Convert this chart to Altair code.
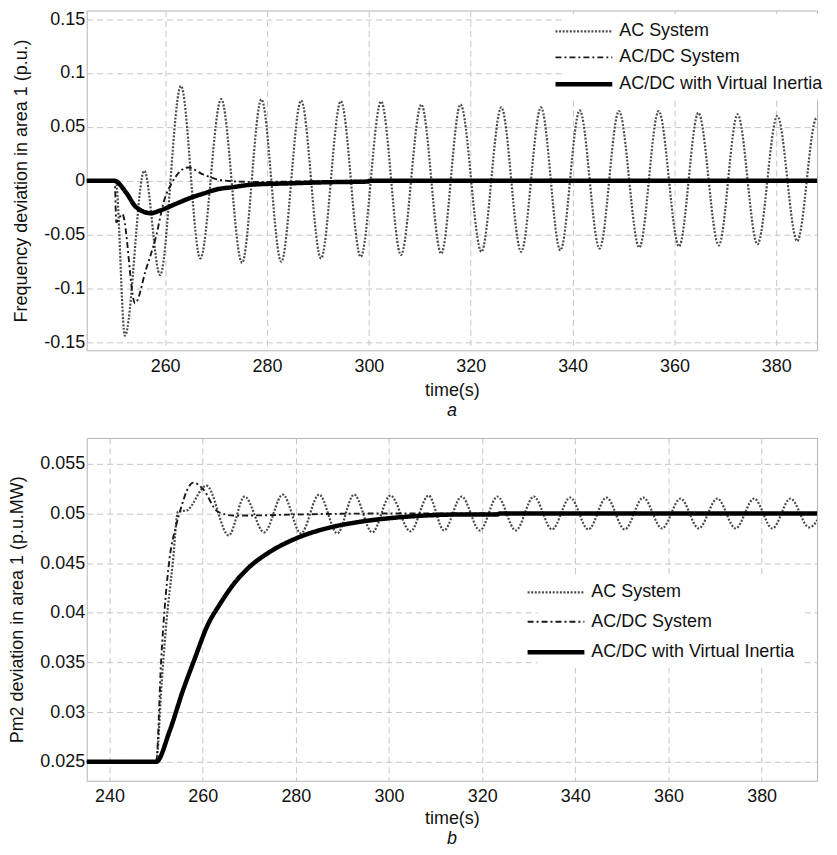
import altair as alt
import pandas as pd

SERIES = ["AC System", "AC/DC System", "AC/DC with Virtual Inertia"]
COLORS = ["#4a4a4a", "#1a1a1a", "#000000"]
DASHES = [[2, 1.6], [6, 3, 2, 3], [1, 0]]
WIDTHS = [2.2, 1.9, 4.5]
FONT = "Liberation Sans"

# ---------------- panel a: frequency deviation ----------------
A_AC_T = [244, 250.3, 252.1, 255.9, 259.0, 263.1, 266.9, 271.0, 275.1, 278.9, 282.8,
          286.7, 290.6, 294.5, 298.4, 302.4, 306.3, 310.3, 314.2, 318.0, 322.1, 326.0,
          329.9, 333.8, 337.6, 341.4, 345.3, 349.1, 353.1, 356.9, 360.9, 364.7, 368.7,
          372.4, 376.3, 380.2, 384.1, 387.9, 391.8]
A_AC_V = [0, 0, -0.144, 0.0092, -0.0876, 0.088, -0.0722, 0.0758, -0.0763, 0.0755, -0.0753,
          0.0744, -0.0722, 0.0738, -0.0707, 0.0735, -0.069, 0.0707, -0.0677, 0.0707, -0.066,
          0.068, -0.066, 0.068, -0.0646, 0.0652, -0.063, 0.0646, -0.062, 0.0646, -0.061,
          0.063, -0.060, 0.0615, -0.059, 0.060, -0.056, 0.058, -0.057]
A_DC_T = [244, 250.1, 250.4, 251.6, 254.1, 256.2, 258.2, 259.8, 261.4, 264.5, 267.3,
          270.0, 273.0, 278.0, 285.0, 300.0, 392]
A_DC_V = [0, 0, -0.0385, -0.031, -0.1138, -0.083, -0.052, -0.0185, -0.0015, 0.0123, 0.0062,
          0.0015, -0.0005, -0.0012, -0.0008, 0, 0]
A_VI_T = [244, 250.0, 252.3, 254.3, 257.2, 259.0, 262.1, 265.3, 267.5, 270.5, 273.0,
          277.0, 284.2, 291.3, 299.8, 300.2, 392]
A_VI_V = [0, 0, -0.0108, -0.0246, -0.0302, -0.0277, -0.0215, -0.0154, -0.012, -0.0077,
          -0.0062, -0.0037, -0.0025, -0.0015, -0.0008, 0, 0]

# ---------------- panel b: Pm2 deviation ----------------
B_AC_T = [235, 250.0, 251.2, 252.2, 253.6, 254.7, 256.5, 260.8, 265.6, 269.0, 273.2,
          277.2, 281.1, 285.0, 288.9, 292.5, 296.4, 300.3, 304.6, 308.5, 311.8, 315.6,
          319.5, 323.3, 327.2, 331.1, 335.0, 338.9, 342.8, 346.7, 350.6, 354.6, 358.6,
          362.6, 366.5, 370.5, 374.4, 378.4, 382.3, 386.2, 390.2, 394.1]
B_AC_V = [0.025, 0.025, 0.033, 0.039, 0.0451, 0.0502, 0.0503, 0.0528, 0.0478, 0.0517, 0.0481,
          0.0519, 0.0480, 0.0519, 0.0480, 0.0519, 0.0481, 0.0518, 0.0482, 0.0518, 0.0483,
          0.0517, 0.0483, 0.0517, 0.0483, 0.0517, 0.0484, 0.0516, 0.0484, 0.0516, 0.0484,
          0.0516, 0.0485, 0.0515, 0.0485, 0.0515, 0.0485, 0.0515, 0.0485, 0.0515, 0.0486,
          0.0514]
B_DC_T = [235, 250.0, 251.1, 252.9, 254.3, 255.5, 256.6, 258.0, 260.0, 263.2, 266.5,
          270.0, 280.0, 300.0, 394]
B_DC_V = [0.025, 0.025, 0.0354, 0.0455, 0.0488, 0.0508, 0.0523, 0.0531, 0.0525, 0.0502,
          0.0498, 0.0498, 0.0499, 0.05, 0.05]
B_VI_T = [235, 250.0, 252.9, 255.7, 258.3, 261.1, 263.6, 266.5, 270.0, 274.3, 280.0,
          286.4, 293.6, 300.7, 308.5, 316.0, 323.3, 323.8, 394]
B_VI_V = [0.025, 0.025, 0.0281, 0.0321, 0.0354, 0.0388, 0.0408, 0.0428, 0.0446, 0.0461,
          0.04748, 0.04848, 0.04915, 0.04955, 0.04981, 0.0499, 0.0499, 0.05, 0.05]

A_XTICKS = [260, 280, 300, 320, 340, 360, 380]
A_YTICKS = [-0.15, -0.1, -0.05, 0, 0.05, 0.1, 0.15]
B_XTICKS = [240, 260, 280, 300, 320, 340, 360, 380]
B_YTICKS = [0.025, 0.03, 0.035, 0.04, 0.045, 0.05, 0.055]


def frame(pairs):
    rows = []
    for name, (ts, vs) in zip(SERIES, pairs):
        rows += [{"series": name, "t": t, "v": v} for t, v in zip(ts, vs)]
    return pd.DataFrame(rows)


def panel(df, xdom, ydom, xticks, yticks, digits, ytitle, caption, lx, ly, rowpad,
          w, h, xlabpad, xtitlepad, capoffset):
    leg = alt.Legend(title=None, orient="none", legendX=lx, legendY=ly,
                     symbolType="M-2.85,0H2.85", symbolSize=400, labelFont=FONT,
                     labelFontSize=18, labelColor="#111", fillColor="white",
                     padding=6, rowPadding=rowpad, labelOffset=23, labelLimit=400)
    sc = dict(domain=SERIES)
    enc = dict(
        x=alt.X("t:Q", scale=alt.Scale(domain=xdom, nice=False, zero=False),
                axis=alt.Axis(values=xticks, title="time(s)", labelPadding=xlabpad,
                              titlePadding=xtitlepad)),
        y=alt.Y("v:Q", scale=alt.Scale(domain=ydom, nice=False, zero=False),
                axis=alt.Axis(values=yticks, title=ytitle, titlePadding=13,
                              labelExpr="datum.value == 0 ? '0' : (datum.value < 0 ? '-' : '') + format(abs(datum.value), '.%d~f')" % digits)),
        color=alt.Color("series:N", scale=alt.Scale(range=COLORS, **sc), legend=leg),
        strokeDash=alt.StrokeDash("series:N", scale=alt.Scale(type="ordinal", range=DASHES, **sc), legend=leg),
        strokeWidth=alt.StrokeWidth("series:N", scale=alt.Scale(type="ordinal", range=WIDTHS, **sc), legend=leg),
    )
    layers = [
        alt.Chart(df).transform_filter(alt.datum.series == s)
        .mark_line(interpolate="monotone", clip=True).encode(**enc)
        for s in SERIES
    ]
    return alt.layer(*layers).properties(
        width=w, height=h,
        title=alt.TitleParams(caption, orient="bottom", anchor="middle", font=FONT,
                              fontSize=18, fontStyle="italic", fontWeight="normal",
                              color="#111", offset=capoffset),
    )


dfa = frame([(A_AC_T, A_AC_V), (A_DC_T, A_DC_V), (A_VI_T, A_VI_V)])
dfb = frame([(B_AC_T, B_AC_V), (B_DC_T, B_DC_V), (B_VI_T, B_VI_V)])

top = panel(dfa, [244.6, 388.0], [-0.1575, 0.158], A_XTICKS, A_YTICKS, 2,
            "Frequency deviation in area 1 (p.u.)", "a", 480.5, 3.5, 5.5, 733, 341,
            7, 6, 3)
bottom = panel(dfb, [235.1, 391.9], [0.0231, 0.0576], B_XTICKS, B_YTICKS, 3,
               "Pm2 deviation in area 1 (p.u.MW)", "b", 452.5, 137.5, 9, 733, 344,
               7, 4, 3)

chart = (
    alt.vconcat(top, bottom, spacing=16)
    .resolve_scale(color="independent", strokeDash="independent", strokeWidth="independent")
    .resolve_legend(color="independent", strokeDash="independent", strokeWidth="independent")
    .properties(padding={"left": 0, "top": 0, "right": 0, "bottom": 0})
    .configure_view(stroke="#b4b4b4", strokeWidth=1)
    .configure_axis(labelFont=FONT, labelFontSize=18, labelColor="#111", titleFont=FONT,
                    titleFontSize=18, titleFontWeight="normal", titleColor="#111",
                    grid=True, gridDash=[6, 4], gridColor="#c6c6c6", gridWidth=1,
                    ticks=False, domain=False)
)

chart.save("out.html", embed_options={"renderer": "svg", "actions": False})
